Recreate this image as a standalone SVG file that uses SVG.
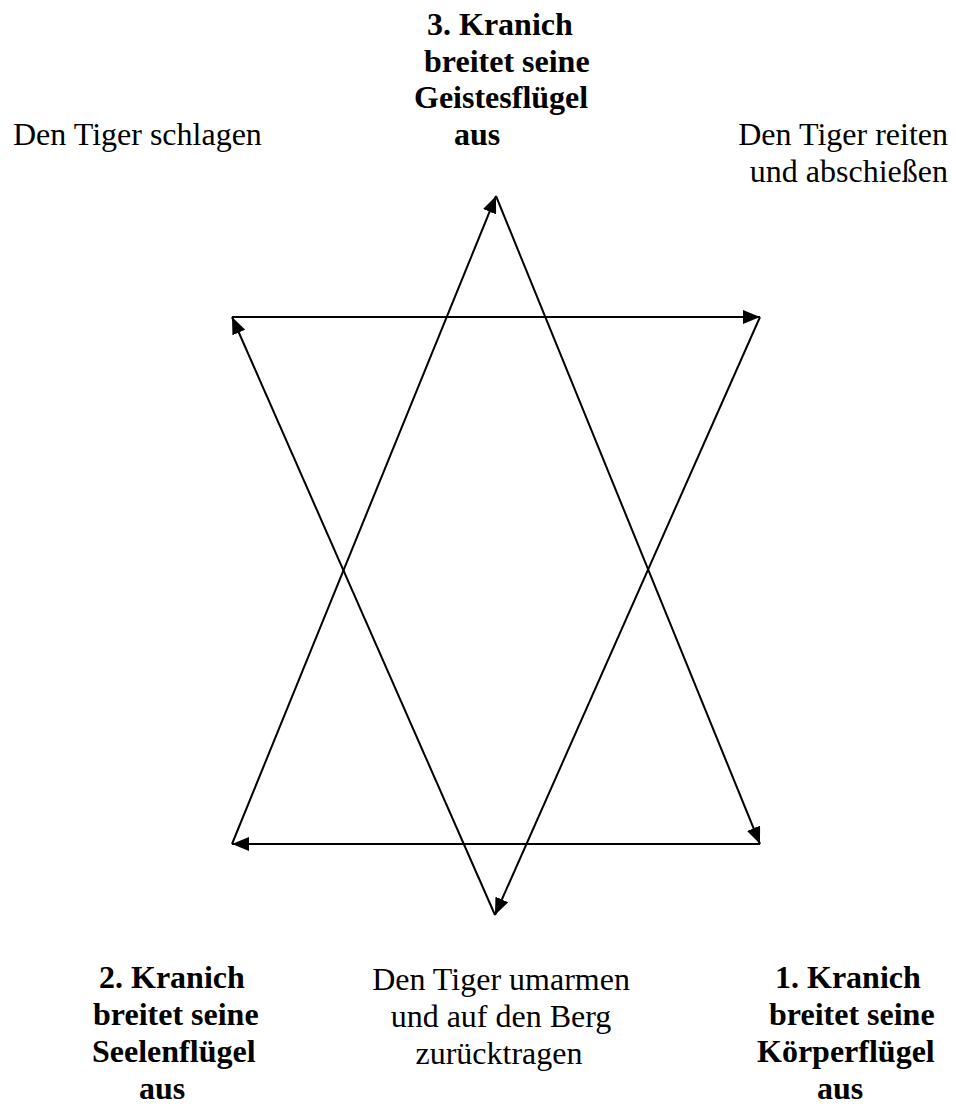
<svg xmlns="http://www.w3.org/2000/svg" width="956" height="1106" viewBox="0 0 956 1106">
<style>
  .t { font-family: "Liberation Serif", "Times New Roman", serif; font-size: 32px; fill: #000; }
  .b { font-weight: bold; }
  .c { fill: none; stroke: #000; stroke-width: 2; marker-end: url(#ah); }
</style>
<defs>
  <marker id="ah" markerUnits="userSpaceOnUse" markerWidth="18" markerHeight="14" refX="17" refY="7" orient="auto">
    <path d="M0,0 L17,7 L0,14 Z" fill="#000"/>
  </marker>
</defs>
<rect width="956" height="1106" fill="#fff"/>
<g id="connectors">
  <line class="c" x1="232" y1="317" x2="760" y2="317"/>
  <line class="c" x1="760" y1="317" x2="495" y2="915"/>
  <line class="c" x1="495" y1="915" x2="232" y2="317"/>
  <line class="c" x1="496" y1="196" x2="760" y2="844"/>
  <line class="c" x1="760" y1="844" x2="232" y2="844"/>
  <line class="c" x1="232" y1="844" x2="496" y2="196"/>
</g>
<g id="node-top">
  <text class="t b" x="427" y="35">3. Kranich</text>
  <text class="t b" x="424" y="72">breitet seine</text>
  <text class="t b" x="414" y="108">Geistesflügel</text>
  <text class="t b" x="454" y="145">aus</text>
</g>
<g id="node-top-left">
  <text class="t" x="13" y="145">Den Tiger schlagen</text>
</g>
<g id="node-top-right">
  <text class="t" x="948" y="145" text-anchor="end">Den Tiger reiten</text>
  <text class="t" x="948" y="182" text-anchor="end">und abschießen</text>
</g>
<g id="node-bottom-left">
  <text class="t b" x="99" y="988">2. Kranich</text>
  <text class="t b" x="93" y="1025">breitet seine</text>
  <text class="t b" x="92" y="1062">Seelenflügel</text>
  <text class="t b" x="139" y="1099">aus</text>
</g>
<g id="node-bottom">
  <text class="t" x="501" y="990" text-anchor="middle">Den Tiger umarmen</text>
  <text class="t" x="501" y="1027" text-anchor="middle">und auf den Berg</text>
  <text class="t" x="499" y="1064" text-anchor="middle">zurücktragen</text>
</g>
<g id="node-bottom-right">
  <text class="t b" x="775" y="988">1. Kranich</text>
  <text class="t b" x="769" y="1025">breitet seine</text>
  <text class="t b" x="757" y="1062">Körperflügel</text>
  <text class="t b" x="817" y="1099">aus</text>
</g>
</svg>
